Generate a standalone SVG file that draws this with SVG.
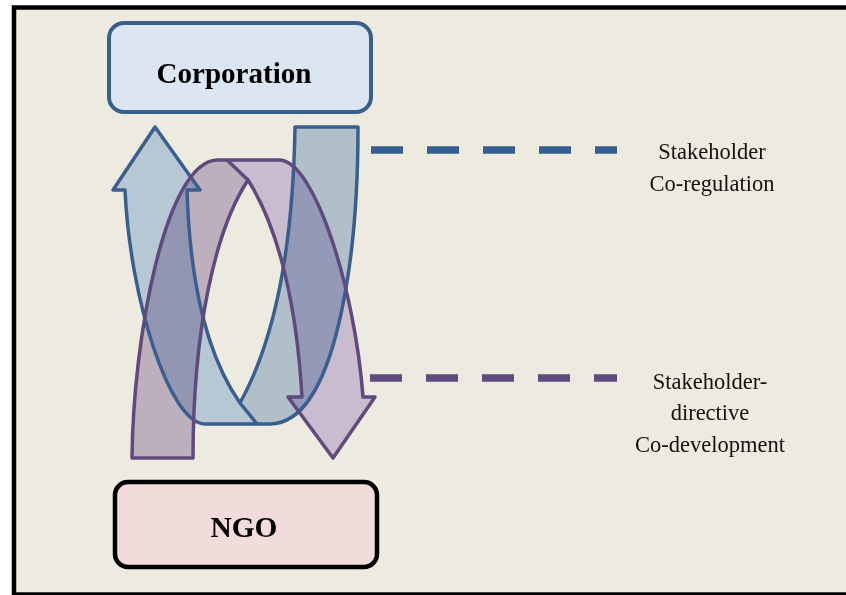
<svg xmlns="http://www.w3.org/2000/svg" width="846" height="595" viewBox="0 0 846 595">
<defs>
<style>
.lbl{font-family:"Liberation Serif","Times New Roman",serif;font-size:22.5px;fill:#111;text-anchor:middle}
.ttl{font-family:"Liberation Serif","Times New Roman",serif;font-size:30px;font-weight:bold;fill:#000;text-anchor:middle}
.bfill{stroke:none;mix-blend-mode:multiply}
.bline{fill:none;stroke:#3A5F8F;stroke-width:3.5;stroke-linejoin:round}
.pline{fill:none;stroke:#604A7D;stroke-width:3.5;stroke-linejoin:round}
.dash{stroke-width:7.5;stroke-dasharray:32 24;fill:none}
</style>
</defs>
<rect x="0" y="0" width="846" height="595" fill="#ffffff"/>
<rect x="14" y="7.5" width="850" height="587" fill="#EDEAE0" stroke="#000" stroke-width="4.5"/>

<g id="corporation">
<rect x="109" y="23" width="262" height="89" rx="15" fill="#DCE6F2" stroke="#3A5F8F" stroke-width="4"/>
<text class="ttl" x="234" y="83" textLength="155" lengthAdjust="spacingAndGlyphs">Corporation</text>
</g>

<g id="ngo">
<rect x="115" y="482" width="262" height="85" rx="13" fill="#F2DCDB" stroke="#000" stroke-width="4.5"/>
<text class="ttl" x="244" y="537" textLength="67" lengthAdjust="spacingAndGlyphs">NGO</text>
</g>

<g id="blue-ribbon">
<path class="bfill" fill="#C4DAF2" d="M155,127 L200,190 L187,190 C190,290 210,360 240,403 L257,424 L205,424 C170,424 130,300 125,190 L113,190 Z"/>
<path class="bfill" fill="#BFD0E4" d="M240,403 C275,340 293,250 295,127 L358,127 C358,260 335,424 270,424 L257,424 Z"/>
</g>

<g id="purple-ribbon">
<path class="bfill" fill="#CCC0D6" d="M132,458 C133,340 165,162 217,160 L227,160 L248,180 C215,230 193,330 193,458 Z"/>
<path class="bfill" fill="#D7CDEB" d="M227,160 L280,160 C315,162 355,290 363,397 L375,397 L333,458 L288,397 L302,397 C297,310 280,230 248,180 Z"/>
</g>

<g id="ribbon-outlines">
<path class="bline" d="M155,127 L200,190 L187,190 C190,290 210,360 240,403 C275,340 293,250 295,127 L358,127 C358,260 335,424 270,424 L205,424 C170,424 130,300 125,190 L113,190 Z"/>
<path class="bline" d="M240,403 L257,424"/>
<path class="pline" d="M132,458 C133,340 165,162 217,160 L280,160 C315,162 355,290 363,397 L375,397 L333,458 L288,397 L302,397 C297,310 280,230 248,180 C215,230 193,330 193,458 Z"/>
<path class="pline" d="M227,160 L248,180"/>
</g>

<g id="connectors">
<line class="dash" x1="371" y1="150" x2="617" y2="150" stroke="#365E8F"/>
<line class="dash" x1="370" y1="378" x2="617" y2="378" stroke="#5E4A7D"/>
</g>

<g id="label-coregulation">
<text class="lbl" x="712" y="159">Stakeholder</text>
<text class="lbl" x="712" y="191">Co-regulation</text>
</g>
<g id="label-codevelopment">
<text class="lbl" x="710" y="389">Stakeholder-</text>
<text class="lbl" x="710" y="420">directive</text>
<text class="lbl" x="710" y="452">Co-development</text>
</g>
</svg>
